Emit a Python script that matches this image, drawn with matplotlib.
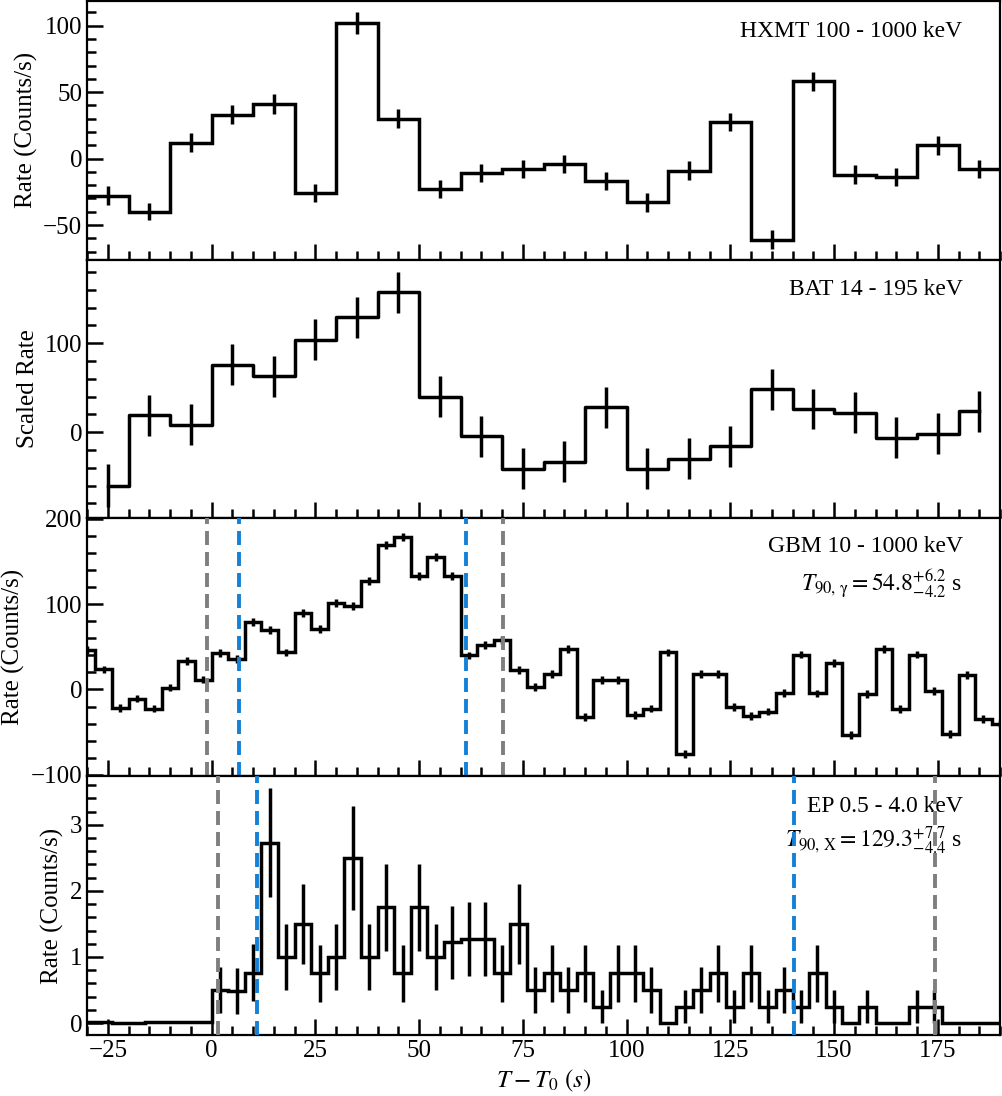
import numpy as np
import matplotlib
matplotlib.use("Agg")
from matplotlib import pyplot as plt
from matplotlib.ticker import MultipleLocator

plt.rcParams["font.family"] = ["Liberation Serif", "DejaVu Serif"]
plt.rcParams["mathtext.fontset"] = "stix"
plt.rcParams["font.size"] = 18

# HXMT 100-1000 keV, 10 s bins
hxmt_edges = np.arange(-30, 191, 10)
hxmt_rate = [-28, -40, 12, 33, 41, -26, 102, 30, -23, -11, -8,
             -4, -17, -33, -9, 27.5, -61, 58, -12, -14, 10, -8]
hxmt_err = [7, 6.5, 7, 7, 7.5, 7, 8, 7, 7, 7, 7,
            7, 7, 7, 7, 7, 7, 7.5, 7, 7, 7, 7]

# BAT 14-195 keV, 10 s bins
bat_t = np.arange(-25, 186, 10)
bat_rate = [-60, 19, 8.6, 76, 63, 104, 129, 157, 40, -4.5, -41,
            -33, 28, -41, -30, -16, 48, 26, 22, -6, -1.5, 23.5]
bat_err = [24, 23, 23, 23, 23, 23, 23, 23, 23, 23, 23,
           23, 23, 23, 23, 23, 23, 23, 23, 23, 23, 23]

# GBM 10-1000 keV, 4 s bins
gbm_edges = np.arange(-32, 193, 4)
gbm_rate = [46, 23.5, -21.6, -10.6, -22.4, 2.3, 33, 11.7,
            43, 35.6, 79, 70, 43.5, 90, 71, 101, 98, 127,
            169, 179, 133, 155, 133, 40, 52, 58, 22.7, 3,
            18, 47.4, -32, 11, 11, -30, -22.4, 43.5, -76, 18,
            18, -20.5, -31.4, -26, -4, 41, -4.7, 31, -53, -5.5,
            47.4, -23, 41, -1.6, -52, 16.8, -35, -40]
gbm_err = 4.5

# EP 0.5-4.0 keV
ep_edges = np.concatenate([[-32, -24, -16, -8], np.arange(0, 193, 4)])
ep_rate = [0.02, 0.0, 0.01, 0.01,
           0.5, 0.49, 0.76, 2.73, 1.0, 1.5, 0.75, 1.0, 2.5, 1.0,
           1.75, 0.75, 1.75, 1.0, 1.22, 1.27, 1.27, 0.75, 1.5, 0.5,
           0.75, 0.5, 0.75, 0.25, 0.75, 0.75, 0.5, 0.0, 0.25, 0.5,
           0.75, 0.25, 0.75, 0.25, 0.5, 0.25, 0.75, 0.25, 0.0, 0.25,
           0.0, 0.0, 0.25, 0.25,
           0.0, 0.0, 0.0, 0.0]
ep_err = [0, 0, 0, 0,
          0.35, 0.35, 0.43, 0.83, 0.5, 0.61, 0.43, 0.5, 0.79, 0.5,
          0.66, 0.43, 0.66, 0.5, 0.55, 0.56, 0.56, 0.43, 0.61, 0.35,
          0.43, 0.35, 0.43, 0.25, 0.43, 0.43, 0.35, 0.0, 0.25, 0.35,
          0.43, 0.25, 0.43, 0.25, 0.35, 0.25, 0.43, 0.25, 0.0, 0.25,
          0.0, 0.0, 0.25, 0.25,
          0, 0, 0, 0]

# T90 boundaries (blue) and outer interval (gray)
gbm_t90 = [6.6, 61.4]
gbm_outer = [-1.2, 70.1]
ep_t90 = [11.0, 140.3]
ep_outer = [1.6, 174.3]

LW = 2.5
BLUE = "#1581d6"
GRAY = "#7f7f7f"
DASH = (0, (3.6, 1.8))
TXT = 17


def style(ax, major, minor):
    ax.yaxis.set_major_locator(MultipleLocator(major))
    ax.yaxis.set_minor_locator(MultipleLocator(minor))
    ax.xaxis.set_major_locator(MultipleLocator(25))
    ax.xaxis.set_minor_locator(MultipleLocator(5))
    ax.tick_params(which="both", direction="in", top=False, right=False, width=1.8)
    ax.tick_params(which="major", length=11.5)
    ax.tick_params(which="minor", length=6.5)
    for s in ax.spines.values():
        s.set_linewidth(1.6)


def centers(edges):
    e = np.asarray(edges, dtype=float)
    return 0.5 * (e[1:] + e[:-1])


fig, axes = plt.subplots(4, 1, sharex=True, figsize=(10.02, 10.96), dpi=100)
fig.subplots_adjust(left=0.087, right=0.998, top=0.999, bottom=0.0557, hspace=0)

# HXMT
ax = axes[0]
ax.stairs(hxmt_rate, hxmt_edges, color="k", lw=LW, baseline=None)
ax.errorbar(centers(hxmt_edges), hxmt_rate, yerr=hxmt_err, fmt="none",
            ecolor="k", elinewidth=LW, capsize=0)
ax.set_ylim(-76, 118.5)
ax.set_ylabel("Rate (Counts/s)")
style(ax, 50, 10)
ax.text(0.959, 0.884, "HXMT 100 - 1000 keV", transform=ax.transAxes,
        ha="right", va="center", fontsize=TXT)

# BAT
ax = axes[1]
ax.plot(bat_t, bat_rate, color="k", lw=LW, drawstyle="steps-mid")
ax.errorbar(bat_t, bat_rate, yerr=bat_err, fmt="none",
            ecolor="k", elinewidth=LW, capsize=0)
ax.set_ylim(-96.5, 194)
ax.set_ylabel("Scaled Rate")
style(ax, 100, 20)
ax.text(0.959, 0.884, "BAT 14 - 195 keV", transform=ax.transAxes,
        ha="right", va="center", fontsize=TXT)

# GBM
ax = axes[2]
ax.stairs(gbm_rate, gbm_edges, color="k", lw=LW, baseline=None)
ax.errorbar(centers(gbm_edges), gbm_rate, yerr=gbm_err, fmt="none",
            ecolor="k", elinewidth=LW, capsize=0)
for x in gbm_outer:
    ax.axvline(x, color=GRAY, lw=2.8, ls=DASH, zorder=4)
for x in gbm_t90:
    ax.axvline(x, color=BLUE, lw=2.8, ls=DASH, zorder=4)
ax.set_ylim(-102, 201)
ax.set_ylabel("Rate (Counts/s)")
style(ax, 100, 20)
ax.text(0.959, 0.888, "GBM 10 - 1000 keV", transform=ax.transAxes,
        ha="right", va="center", fontsize=TXT)
ax.text(0.959, 0.745, r"$T_{90,\,\mathrm{\gamma}} = 54.8^{+6.2}_{-4.2}$ s",
        transform=ax.transAxes, ha="right", va="center", fontsize=TXT)

# EP
ax = axes[3]
ax.stairs(ep_rate, ep_edges, color="k", lw=LW, baseline=None)
c = centers(ep_edges)
show = np.asarray(ep_err) > 0
ax.errorbar(c[show], np.asarray(ep_rate)[show], yerr=np.asarray(ep_err)[show],
            fmt="none", ecolor="k", elinewidth=LW, capsize=0)
for x in ep_outer:
    ax.axvline(x, color=GRAY, lw=2.8, ls=DASH, zorder=4)
for x in ep_t90:
    ax.axvline(x, color=BLUE, lw=2.8, ls=DASH, zorder=4)
ax.set_ylim(-0.18, 3.73)
ax.set_ylabel("Rate (Counts/s)")
style(ax, 1, 0.2)
ax.text(0.959, 0.884, "EP 0.5 - 4.0 keV", transform=ax.transAxes,
        ha="right", va="center", fontsize=TXT)
ax.text(0.959, 0.752, r"$T_{90,\,\mathrm{X}} = 129.3^{+7.7}_{-4.4}$ s",
        transform=ax.transAxes, ha="right", va="center", fontsize=TXT)

ax.set_xlim(-30, 190)
ax.set_xlabel(r"$T - T_0\ (s)$")

fig.savefig("out.png", dpi=100)
